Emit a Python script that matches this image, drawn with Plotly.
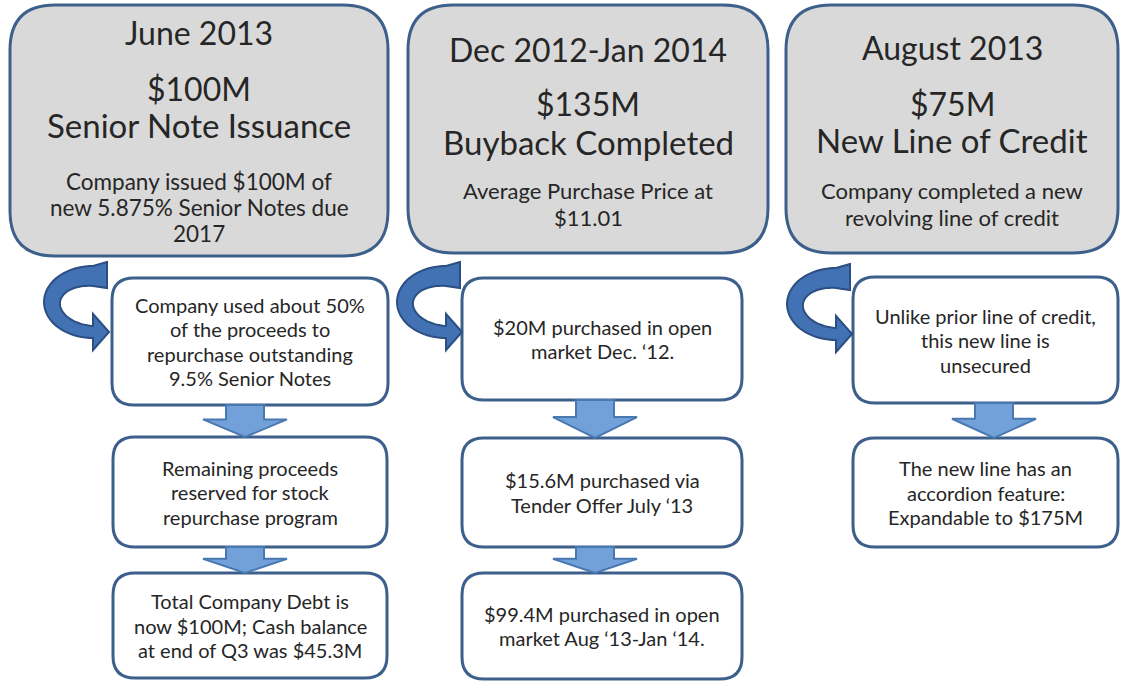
import math
import plotly.graph_objects as go

# ---- content ----
top_dates = ["June 2013", "Dec 2012-Jan 2014", "August 2013"]
top_amounts = ["$100M", "$135M", "$75M"]
top_titles = ["Senior Note Issuance", "Buyback Completed", "New Line of Credit"]
top_details = [
    ["Company issued $100M of", "new 5.875% Senior Notes due", "2017"],
    ["Average Purchase Price at", "$11.01"],
    ["Company completed a new", "revolving line of credit"],
]
step_texts = [
    [
        ["Company used about 50%", "of the proceeds to", "repurchase outstanding", "9.5% Senior Notes"],
        ["Remaining proceeds", "reserved for stock", "repurchase program"],
        ["Total Company Debt is", "now $100M; Cash balance", "at end of Q3 was $45.3M"],
    ],
    [
        ["$20M purchased in open", "market Dec. \u201812."],
        ["$15.6M purchased via", "Tender Offer July \u201813"],
        ["$99.4M purchased in open", "market Aug \u201813-Jan \u201814."],
    ],
    [
        ["Unlike prior line of credit,", "this new line is", "unsecured"],
        ["The new line has an", "accordion feature:", "Expandable to $175M"],
    ],
]

# ---- layout geometry ----
W, H = 1128, 682
FONT = "Lato"
TXT = "#262626"
BORDER = "#3d5f8b"

top_boxes = [(10, 5, 388, 256), (408, 5, 768, 253), (786, 5, 1118, 253)]
top_line_y = [
    (32, 88, 125, [181, 207, 233]),
    (49, 103, 142, [190, 217]),
    (47, 103, 140, [190, 217]),
]
detail_size = [22.5, 22, 22]

step_boxes = [
    [(112, 278, 388, 405), (113, 437, 387, 547), (113, 573, 387, 678)],
    [(462, 278, 742, 400), (462, 438, 742, 547), (462, 573, 742, 679)],
    [(853, 277, 1118, 403), (853, 438, 1118, 547)],
]
arrow_cx = [245, 595, 994]
curve_arrows = [(93, 302), (446, 302), (836, 304)]


def rrect(x0, y0, x1, y1, r):
    return (f"M {x0+r},{y0} L {x1-r},{y0} Q {x1},{y0} {x1},{y0+r} "
            f"L {x1},{y1-r} Q {x1},{y1} {x1-r},{y1} L {x0+r},{y1} "
            f"Q {x0},{y1} {x0},{y1-r} L {x0},{y0+r} Q {x0},{y0} {x0+r},{y0} Z")


def down_arrow(cx, ytop, ytip):
    yh = ytop + (ytip - ytop) * 0.45
    sw, hw = 19, 42
    pts = [(cx - sw, ytop), (cx + sw, ytop), (cx + sw, yh), (cx + hw, yh),
           (cx, ytip), (cx - hw, yh), (cx - sw, yh)]
    return "M " + " L ".join(f"{x},{y}" for x, y in pts) + " Z"


def curved_arrow(cx, cy):
    rx, ry = 49, 36
    n = 40
    outer, inner = [], []
    for i in range(n + 1):
        th = math.radians(270 - 180 * i / n)
        t = 20 - 8 * i / n
        outer.append((cx + rx * math.cos(th), cy + ry * math.sin(th)))
        inner.append((cx + (rx - t) * math.cos(th), cy + (ry - t) * math.sin(th)))
    ob = outer[-1]
    ib = inner[-1]
    mid = (ob[1] + ib[1]) / 2
    pts = ([(cx + 14, cy - ry - 4)] + outer +
           [(cx, mid + 18), (cx + 16, mid), (cx, mid - 18)] +
           inner[::-1] + [(cx + 14, cy - ry + 22)])
    return "M " + " L ".join(f"{x:.1f},{y:.1f}" for x, y in pts) + " Z"


fig = go.Figure()
shapes = []
ann = []


def add_text(x, y, s, size):
    ann.append(dict(x=x, y=y, text=s, showarrow=False, xref="x", yref="y",
                    font=dict(family=FONT, size=size, color=TXT),
                    xanchor="center", yanchor="middle"))


for i, (x0, y0, x1, y1) in enumerate(top_boxes):
    shapes.append(dict(type="path", path=rrect(x0, y0, x1, y1, 45), xref="x", yref="y",
                       fillcolor="#d9d9d9", line=dict(color=BORDER, width=3), layer="below"))
    cx = (x0 + x1) / 2
    yd, ya, yt, ydet = top_line_y[i]
    add_text(cx, yd, top_dates[i], 32)
    add_text(cx, ya, top_amounts[i], 32)
    add_text(cx, yt, top_titles[i], 33)
    for s, yy in zip(top_details[i], ydet):
        add_text(cx, yy, s, detail_size[i])

for c, boxes in enumerate(step_boxes):
    for j, (x0, y0, x1, y1) in enumerate(boxes):
        shapes.append(dict(type="path", path=rrect(x0, y0, x1, y1, 22), xref="x", yref="y",
                           fillcolor="white", line=dict(color=BORDER, width=3), layer="below"))
        lines = step_texts[c][j]
        cy = (y0 + y1) / 2
        gap = 24.5
        start = cy - gap * (len(lines) - 1) / 2
        for k, s in enumerate(lines):
            add_text((x0 + x1) / 2, start + k * gap, s, 20)
        if j + 1 < len(boxes):
            nxt = boxes[j + 1]
            shapes.append(dict(type="path", path=down_arrow(arrow_cx[c], y1, nxt[1]), xref="x", yref="y",
                               fillcolor="#72a0d8", line=dict(color="#4a78b0", width=2)))
    ccx, ccy = curve_arrows[c]
    shapes.append(dict(type="path", path=curved_arrow(ccx, ccy), xref="x", yref="y",
                       fillcolor="#4272b4", line=dict(color="#2b4f82", width=2)))

fig.update_layout(
    width=W, height=H, margin=dict(l=0, r=0, t=0, b=0),
    paper_bgcolor="white", plot_bgcolor="white",
    xaxis=dict(range=[0, W], visible=False, fixedrange=True),
    yaxis=dict(range=[H, 0], visible=False, fixedrange=True),
    shapes=shapes, annotations=ann, showlegend=False,
)
fig.write_html("out.html", config={"displayModeBar": False},
               post_script="document.body.style.margin='0';document.body.style.overflow='hidden';")
